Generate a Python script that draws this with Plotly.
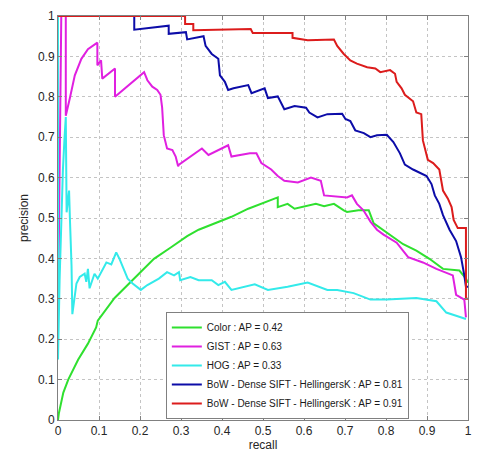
import plotly.graph_objects as go

# ---------------- data ----------------
color_r = [0, 0.002, 0.013, 0.025, 0.049, 0.073, 0.093, 0.097, 0.138, 0.17, 0.202, 0.234, 0.275,
           0.315, 0.343, 0.383, 0.423, 0.464, 0.504, 0.536, 0.536, 0.56, 0.577, 0.6, 0.629, 0.649,
           0.673, 0.697, 0.705, 0.733, 0.758, 0.77, 0.802, 0.842, 0.874, 0.906, 0.939, 0.979, 0.995, 1.0]
color_p = [0, 0.016, 0.068, 0.10, 0.149, 0.189, 0.229, 0.246, 0.302, 0.334, 0.366, 0.399, 0.427,
           0.455, 0.471, 0.487, 0.503, 0.523, 0.539, 0.551, 0.527, 0.535, 0.523, 0.529, 0.535, 0.529,
           0.535, 0.519, 0.515, 0.519, 0.519, 0.487, 0.463, 0.435, 0.419, 0.399, 0.374, 0.37, 0.35, 0.34]

gist_r = [0, 0.004, 0.008, 0.019, 0.019, 0.029, 0.041, 0.057, 0.073, 0.096, 0.096, 0.105, 0.108,
          0.139, 0.139, 0.21, 0.218, 0.23, 0.242, 0.25, 0.254, 0.258, 0.266, 0.279, 0.287, 0.293,
          0.295, 0.351, 0.367, 0.415, 0.423, 0.468, 0.484, 0.496, 0.52, 0.536, 0.552, 0.585, 0.617,
          0.641, 0.649, 0.705, 0.717, 0.729, 0.745, 0.762, 0.778, 0.794, 0.826, 0.854, 0.89, 0.923,
          0.963, 0.971, 0.991, 0.995]
gist_p = [0.25, 0.6, 1.0, 1.0, 0.753, 0.797, 0.853, 0.894, 0.918, 0.934, 0.878, 0.89, 0.845,
          0.87, 0.80, 0.861, 0.841, 0.825, 0.817, 0.805, 0.773, 0.705, 0.672, 0.668, 0.652, 0.628,
          0.632, 0.672, 0.656, 0.68, 0.652, 0.66, 0.66, 0.636, 0.62, 0.604, 0.592, 0.588, 0.60,
          0.592, 0.556, 0.551, 0.556, 0.535, 0.519, 0.491, 0.471, 0.459, 0.439, 0.403, 0.39, 0.374,
          0.358, 0.31, 0.298, 0.254]

hog_r = [0, 0, 0.004, 0.008, 0.012, 0.016, 0.019, 0.021, 0.024, 0.027, 0.029, 0.031, 0.033, 0.035,
         0.045, 0.053, 0.065, 0.069, 0.073, 0.077, 0.089, 0.097, 0.118, 0.13, 0.142, 0.15, 0.17,
         0.182, 0.202, 0.218, 0.246, 0.266, 0.283, 0.295, 0.298, 0.323, 0.343, 0.375, 0.391, 0.407,
         0.423, 0.48, 0.512, 0.56, 0.609, 0.657, 0.681, 0.721, 0.762, 0.802, 0.874, 0.923, 0.947,
         0.971, 0.995]
hog_p = [1.0, 0.15, 0.35, 0.5, 0.62, 0.7, 0.75, 0.514, 0.55, 0.568, 0.5, 0.45, 0.382, 0.262,
         0.338, 0.354, 0.362, 0.342, 0.374, 0.326, 0.362, 0.35, 0.39, 0.385, 0.415, 0.399, 0.35,
         0.338, 0.322, 0.334, 0.35, 0.366, 0.358, 0.366, 0.346, 0.354, 0.346, 0.346, 0.334, 0.342,
         0.322, 0.336, 0.322, 0.33, 0.34, 0.322, 0.322, 0.314, 0.298, 0.298, 0.302, 0.294, 0.266,
         0.258, 0.25]

bow81_r = [0, 0.186, 0.186, 0.27, 0.27, 0.312, 0.315, 0.355, 0.36, 0.375, 0.391, 0.395, 0.407,
           0.415, 0.428, 0.464, 0.472, 0.504, 0.512, 0.536, 0.552, 0.577, 0.605, 0.613, 0.633,
           0.657, 0.693, 0.701, 0.713, 0.725, 0.746, 0.762, 0.778, 0.802, 0.818, 0.834, 0.846,
           0.866, 0.899, 0.911, 0.919, 0.93, 0.939, 0.955, 0.971, 0.983, 0.991, 0.995, 1.0]
bow81_p = [1.0, 1.0, 0.966, 0.976, 0.956, 0.96, 0.942, 0.95, 0.926, 0.906, 0.894, 0.853, 0.837,
           0.817, 0.821, 0.829, 0.809, 0.821, 0.797, 0.801, 0.769, 0.777, 0.773, 0.761, 0.749,
           0.757, 0.758, 0.745, 0.74, 0.717, 0.71, 0.70, 0.705, 0.706, 0.688, 0.66, 0.632,
           0.62, 0.604, 0.584, 0.556, 0.535, 0.507, 0.471, 0.443, 0.403, 0.358, 0.33, 0.33]

bow91_r = [0, 0.31, 0.31, 0.33, 0.33, 0.47, 0.475, 0.572, 0.572, 0.609, 0.673, 0.681, 0.697,
           0.713, 0.729, 0.754, 0.774, 0.786, 0.81, 0.822, 0.826, 0.838, 0.846, 0.866, 0.874,
           0.886, 0.89, 0.902, 0.915, 0.93, 0.939, 0.951, 0.96, 0.965, 0.975, 0.995, 0.995, 1.0]
bow91_p = [1.0, 1.0, 0.98, 0.98, 0.965, 0.968, 0.958, 0.958, 0.946, 0.94, 0.942, 0.926, 0.906,
           0.89, 0.882, 0.873, 0.87, 0.861, 0.866, 0.857, 0.837, 0.821, 0.805, 0.789, 0.761,
           0.757, 0.692, 0.644, 0.636, 0.62, 0.568, 0.548, 0.527, 0.495, 0.475, 0.475, 0.3, 0.3]

series = [
    ("Color : AP = 0.42", color_r, color_p, "#2fe02f"),
    ("GIST : AP = 0.63", gist_r, gist_p, "#e020e0"),
    ("HOG : AP = 0.33", hog_r, hog_p, "#33eaea"),
    ("BoW - Dense SIFT - HellingersK : AP = 0.81", bow81_r, bow81_p, "#0c0ca8"),
    ("BoW - Dense SIFT - HellingersK : AP = 0.91", bow91_r, bow91_p, "#dc1c1c"),
]

tick_vals = [i / 10 for i in range(11)]
tick_text = ["0", "0.1", "0.2", "0.3", "0.4", "0.5", "0.6", "0.7", "0.8", "0.9", "1"]

fig = go.Figure()
for name, r, p, c in series:
    fig.add_trace(go.Scatter(x=r, y=p, mode="lines", name=name,
                             line=dict(color=c, width=2)))

axis_common = dict(
    range=[0, 1], tickvals=tick_vals, ticktext=tick_text,
    showline=True, linecolor="#808080", linewidth=1, mirror="ticks",
    ticks="inside", ticklen=4, tickcolor="#808080",
    showgrid=True, gridcolor="#c4c4c4", griddash="dot", gridwidth=1,
    zeroline=False, tickfont=dict(size=12, color="#262626"),
)

fig.update_layout(
    width=481, height=458,
    margin=dict(l=58, r=9, t=11, b=33),
    paper_bgcolor="white", plot_bgcolor="white",
    font=dict(family="Arial, Liberation Sans, sans-serif", color="#262626"),
    xaxis=dict(axis_common, title=dict(text="recall", standoff=2, font=dict(size=12))),
    yaxis=dict(axis_common, title=dict(text="precision", standoff=6, font=dict(size=12))),
    legend=dict(x=0.263, y=0.135, xanchor="left", yanchor="middle",
                bgcolor="white", bordercolor="#808080", borderwidth=1,
                font=dict(size=10, color="#1a1a1a"), tracegroupgap=0),
    showlegend=True,
)

fig.write_html("out.html")
